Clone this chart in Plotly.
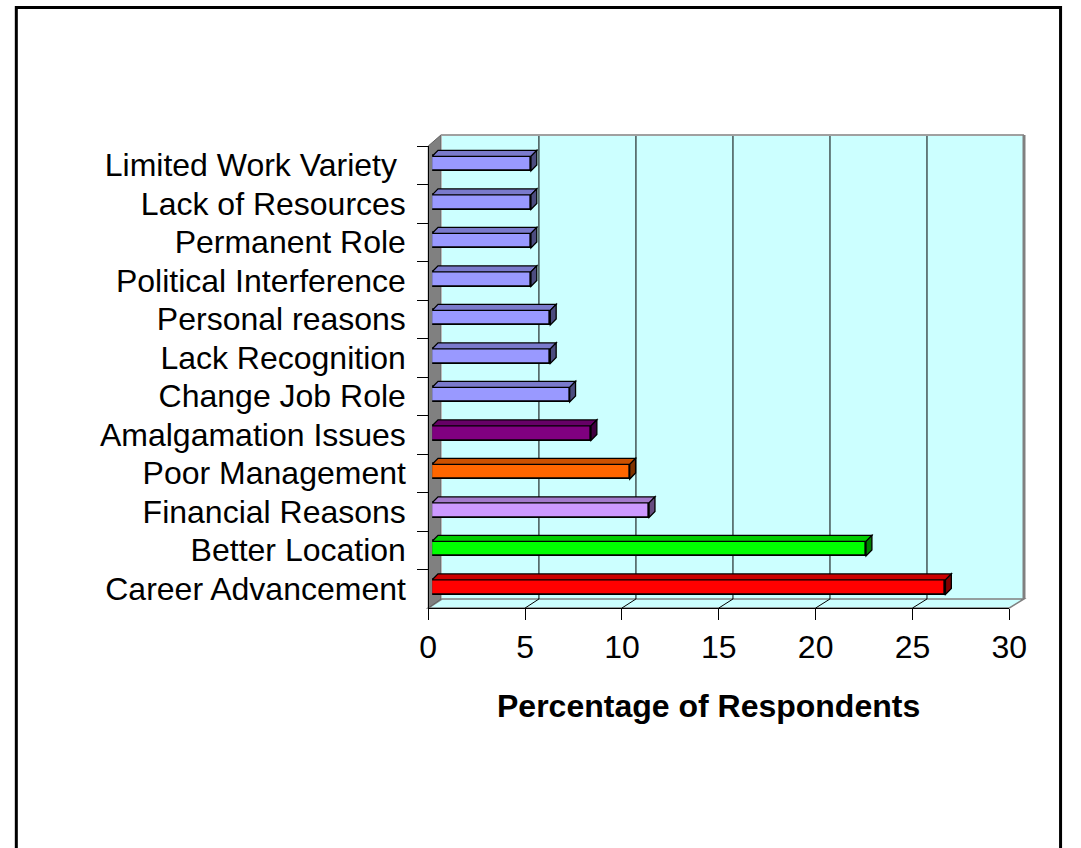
import plotly.graph_objects as go

# ---------------- data ----------------
categories = [
    "Limited Work Variety ",
    "Lack of Resources",
    "Permanent Role",
    "Political Interference",
    "Personal reasons",
    "Lack Recognition",
    "Change Job Role",
    "Amalgamation Issues",
    "Poor Management",
    "Financial Reasons",
    "Better Location",
    "Career Advancement",
]
values = [5.1, 5.1, 5.1, 5.1, 6.1, 6.1, 7.1, 8.2, 10.2, 11.2, 22.4, 26.5]
bar_colors = [
    "#9999FF", "#9999FF", "#9999FF", "#9999FF", "#9999FF", "#9999FF",
    "#9999FF", "#800080", "#FF6600", "#CC99FF", "#00FF00", "#FF0000",
]
x_ticks = [0, 5, 10, 15, 20, 25, 30]
x_title = "Percentage of Respondents"

# ---------------- geometry helpers (pixels -> paper) ----------------
W, H = 1081, 848
def PX(px):
    return px / W
def PY(py):
    return 1 - py / H

FONT = "Liberation Sans, Arial, sans-serif"
FS = 32

# front axis (labels) : 0 -> 430 px, 30 -> 1026 px ; floor front at y=608
# bars are drawn at mid-depth: 0 -> 434 px
# back wall: x 444..1041, y 135..599
front_x0, front_x1 = 430, 1026
bar_x0, bar_x1 = 434, 1030
back_x0, back_x1 = 444, 1041
top_y, bot_y = 146, 608
back_top, back_bot = 135, 599

def shade(hexcol, f):
    h = hexcol.lstrip("#")
    r, g, b = int(h[0:2], 16), int(h[2:4], 16), int(h[4:6], 16)
    return "rgb(%d,%d,%d)" % (int(r * f), int(g * f), int(b * f))

fig = go.Figure()

fig.add_trace(go.Bar(
    orientation="h",
    x=values,
    y=categories,
    marker=dict(color=bar_colors, line=dict(color="black", width=1.8)),
    width=0.38,
    offset=-0.23,
    xaxis="x",
    yaxis="y",
    hoverinfo="x+y",
    showlegend=False,
))
# dummy trace to realise the front axis subplot
fig.add_trace(go.Scatter(x=[], y=[], xaxis="x3", yaxis="y", showlegend=False))

shapes = []
# back wall
shapes.append(dict(type="rect", xref="paper", yref="paper", layer="below",
                   x0=PX(back_x0), x1=PX(back_x1), y0=PY(back_bot), y1=PY(back_top),
                   fillcolor="#CCFFFF", line=dict(width=0)))
# floor
shapes.append(dict(type="path", xref="paper", yref="paper", layer="below",
                   path="M %f,%f L %f,%f L %f,%f L %f,%f Z" % (
                       PX(front_x0), PY(bot_y), PX(front_x1), PY(bot_y),
                       PX(back_x1), PY(back_bot), PX(back_x0), PY(back_bot)),
                   fillcolor="#CCFFFF", line=dict(color="#808080", width=1.5)))
# left side wall
shapes.append(dict(type="path", xref="paper", yref="paper", layer="below",
                   path="M %f,%f L %f,%f L %f,%f L %f,%f Z" % (
                       PX(front_x0), PY(top_y), PX(back_x0 - 1), PY(back_top),
                       PX(back_x0 - 1), PY(back_bot), PX(front_x0), PY(bot_y)),
                   fillcolor="#808080", line=dict(color="#606060", width=1)))
# back-wall gridlines and floor gridlines
for v in x_ticks[1:-1]:
    xb = back_x0 + v * (back_x1 - back_x0) / 30.0
    xf = front_x0 + v * (front_x1 - front_x0) / 30.0
    shapes.append(dict(type="line", xref="paper", yref="paper", layer="below",
                       x0=PX(xb), x1=PX(xb), y0=PY(back_bot), y1=PY(back_top),
                       line=dict(color="black", width=1)))
    shapes.append(dict(type="line", xref="paper", yref="paper", layer="below",
                       x0=PX(xb), x1=PX(xf), y0=PY(back_bot), y1=PY(bot_y),
                       line=dict(color="black", width=1)))
# back wall top and right edges
shapes.append(dict(type="line", xref="paper", yref="paper", layer="below",
                   x0=PX(back_x0 - 1), x1=PX(back_x1), y0=PY(back_top), y1=PY(back_top),
                   line=dict(color="#A0A0A0", width=2)))
shapes.append(dict(type="line", xref="paper", yref="paper", layer="below",
                   x0=PX(back_x1), x1=PX(back_x1), y0=PY(back_top), y1=PY(back_bot),
                   line=dict(color="#808080", width=3)))

# 3-D faces of the bars (derived from the data values)
dx = 6.0 * 30.0 / (bar_x1 - bar_x0)   # 6 px depth in data units
dy = 6.0 / ((bot_y - top_y) / 12.0)   # 6 px depth in category units
for i, (v, c) in enumerate(zip(values, bar_colors)):
    ytop = i - 0.23
    ybot = i + 0.15
    shapes.append(dict(type="path", xref="x", yref="y", layer="above",
                       path="M %f,%f L %f,%f L %f,%f L %f,%f Z" % (
                           0, ytop, dx, ytop - dy, v + dx, ytop - dy, v, ytop),
                       fillcolor=shade(c, 0.8), line=dict(color="black", width=1.3)))
    shapes.append(dict(type="path", xref="x", yref="y", layer="above",
                       path="M %f,%f L %f,%f L %f,%f L %f,%f Z" % (
                           v, ytop, v + dx, ytop - dy, v + dx, ybot - dy, v, ybot),
                       fillcolor=shade(c, 0.5), line=dict(color="black", width=1.3)))

# outer chart border
shapes.append(dict(type="rect", xref="paper", yref="paper", layer="above",
                   x0=PX(7.5), x1=PX(1078.5), y0=PY(900), y1=PY(7.5),
                   line=dict(color="black", width=3), fillcolor="rgba(0,0,0,0)"))

fig.update_layout(
    width=W, height=H, autosize=False,
    margin=dict(l=0, r=0, t=0, b=0),
    paper_bgcolor="white",
    plot_bgcolor="rgba(0,0,0,0)",
    font=dict(family=FONT, size=FS, color="black"),
    shapes=shapes,
    bargap=0,
    xaxis=dict(
        domain=[PX(bar_x0), PX(bar_x1)], range=[0, 30],
        showgrid=False, zeroline=False, showline=False,
        showticklabels=False, ticks="", fixedrange=True,
    ),
    xaxis3=dict(
        domain=[PX(front_x0), PX(front_x1)], range=[0, 30],
        anchor="free", position=PY(bot_y),
        tickvals=x_ticks, ticktext=[str(t) for t in x_ticks],
        ticks="outside", ticklen=11, tickcolor="black", tickwidth=1,
        showline=True, linecolor="black", linewidth=1,
        showgrid=False, zeroline=False,
        tickfont=dict(family=FONT, size=FS), fixedrange=True,
    ),
    yaxis=dict(
        domain=[PY(bot_y), PY(top_y)],
        type="category", categoryorder="array", categoryarray=categories,
        range=[len(categories) - 0.5, -0.5],
        anchor="free", position=PX(front_x0),
        showline=True, linecolor="black", linewidth=1,
        ticks="outside", ticklen=11, tickcolor="black", tickwidth=1,
        tickson="boundaries",
        showgrid=False, zeroline=False,
        tickfont=dict(family=FONT, size=FS), ticklabelstandoff=16,
        fixedrange=True,
    ),
    annotations=[dict(
        text="<b>%s</b>" % x_title, xref="paper", yref="paper",
        x=PX(717), y=PY(706), xanchor="center", yanchor="middle",
        showarrow=False, font=dict(family=FONT, size=FS, color="black"),
    )],
)

fig.write_html("out.html")
